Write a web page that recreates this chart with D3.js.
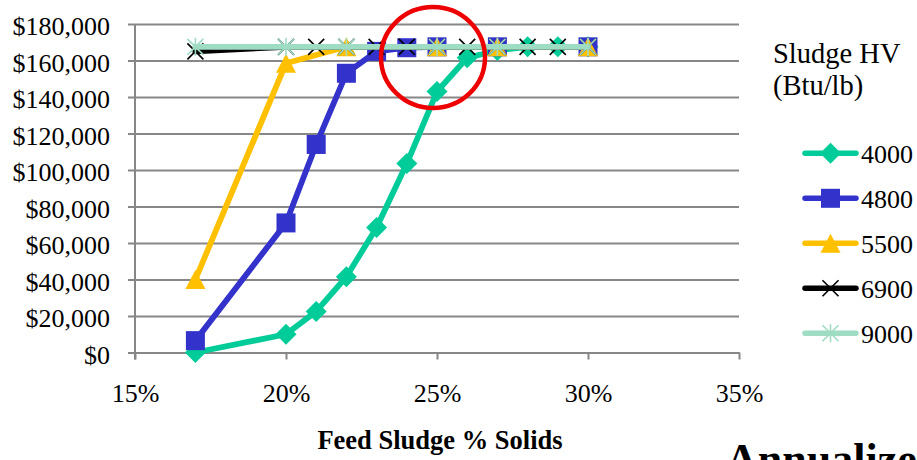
<!DOCTYPE html>
<html>
<head>
<meta charset="utf-8">
<script src="https://cdn.jsdelivr.net/npm/d3@7"></script>
<style>
  html, body { margin: 0; padding: 0; background: #fff; }
  svg { display: block; }
  svg text { font-family: 'Liberation Serif', 'Times New Roman', Tinos, 'DejaVu Serif', 'Noto Serif', serif; fill: #000; }
</style>
</head>
<body>
<svg id="chart" width="917" height="460"></svg>
<script>
// Feed sludge solids (%) and annualized cost ($) for each sludge heating value
const pct4000  = [17, 20, 21, 22, 23, 24, 25, 26, 27, 28, 29, 30];
const cost4000 = [0, 10000, 22500, 41500, 68500, 103500, 143000, 161500, 165500, 167500, 167500, 167500];

const pct4800  = [17, 20, 21, 22, 23, 24, 25, 27, 30];
const cost4800 = [6500, 71000, 114000, 153000, 165000, 167000, 167500, 167500, 167500];

const pct5500  = [17, 20, 22, 25, 27, 30];
const cost5500 = [40000, 158500, 167500, 167500, 167500, 167500];

const pct6900  = [17, 20, 21, 22, 23, 24, 25, 26, 27, 28, 29, 30];
const cost6900 = [165000, 167500, 167500, 167500, 167500, 167500, 167500, 167500, 167500, 167500, 167500, 167500];

const pct9000  = [17, 20, 22, 25, 27, 30];
const cost9000 = [167500, 167500, 167500, 167500, 167500, 167500];

const seriesNames  = ["4000", "4800", "5500", "6900", "9000"];
const seriesColors = ["#00CC99", "#3333CC", "#FFC000", "#000000", "#9EDCC3"];
const seriesShapes = ["diamond", "square", "triangle", "x", "star"];

const xTicks = [15, 20, 25, 30, 35];
const yTicks = [0, 20000, 40000, 60000, 80000, 100000, 120000, 140000, 160000, 180000];

const legendTitle = ["Sludge HV", "(Btu/lb)"];
const xTitle = "Feed Sludge % Solids";
const pageHeading = "Annualized";

const FONT = "'Liberation Serif', 'Times New Roman', Tinos, 'DejaVu Serif', 'Noto Serif', serif";

const series = [
  { pct: pct4000, cost: cost4000 },
  { pct: pct4800, cost: cost4800 },
  { pct: pct5500, cost: cost5500 },
  { pct: pct6900, cost: cost6900 },
  { pct: pct9000, cost: cost9000 }
].map((s, i) => ({
  name: seriesNames[i],
  color: seriesColors[i],
  shape: seriesShapes[i],
  points: s.pct.map((p, j) => ({ x: p / 100, y: s.cost[j] }))
}));

const svg = d3.select("#chart").attr("font-family", FONT);
const plot = { left: 135, right: 739, top: 24, bottom: 352.5 };

const x = d3.scaleLinear().domain([0.15, 0.35]).range([plot.left, plot.right]);
const y = d3.scaleLinear().domain([0, 180000]).range([plot.bottom, plot.top]);

const grey = "#878787";

// Horizontal gridlines with short outer ticks, and the value labels
const yAxis = svg.append("g")
  .attr("transform", `translate(${plot.left},0)`)
  .call(d3.axisLeft(y).tickValues(yTicks).tickFormat(d3.format("$,")).tickSizeOuter(0));
yAxis.attr("font-family", FONT).attr("font-size", 26);
yAxis.select(".domain").remove();
yAxis.selectAll(".tick line")
  .attr("x1", -7).attr("x2", plot.right - plot.left)
  .attr("stroke", grey).attr("stroke-width", 2);
yAxis.selectAll(".tick text")
  .attr("x", -25).attr("dy", "0.42em");

// Vertical axis line
svg.append("line")
  .attr("x1", plot.left).attr("x2", plot.left)
  .attr("y1", plot.top).attr("y2", plot.bottom + 7)
  .attr("stroke", grey).attr("stroke-width", 2);

// Horizontal axis with downward ticks and percent labels
const xAxis = svg.append("g")
  .attr("transform", `translate(0,${plot.bottom})`)
  .call(d3.axisBottom(x).tickValues(xTicks.map(d => d / 100))
    .tickFormat(d3.format(".0%")).tickSizeInner(7).tickSizeOuter(0));
xAxis.attr("font-family", FONT).attr("font-size", 26);
xAxis.select(".domain").attr("stroke", grey).attr("stroke-width", 2);
xAxis.selectAll(".tick line").attr("stroke", grey).attr("stroke-width", 2);
xAxis.selectAll(".tick text").attr("y", 49.5).attr("dy", 0);

// Marker drawing
function drawMarker(g, shape, color) {
  if (shape === "diamond") {
    g.append("path").attr("d", "M0,-10.5L10.5,0L0,10.5L-10.5,0Z").attr("fill", color);
  } else if (shape === "square") {
    g.append("rect").attr("x", -9.5).attr("y", -9.5).attr("width", 19).attr("height", 19)
      .attr("fill", color);
  } else if (shape === "triangle") {
    g.append("path").attr("d", "M0,-9.5L10,9.5L-10,9.5Z").attr("fill", color);
  } else if (shape === "x") {
    g.append("path").attr("d", "M-8,-8L8,8M-8,8L8,-8")
      .attr("stroke", color).attr("stroke-width", 1.6).attr("fill", "none");
  } else if (shape === "star") {
    g.append("path").attr("d", "M-8,-8L8,8M-8,8L8,-8M0,-9L0,9")
      .attr("stroke", color).attr("stroke-width", 1.6).attr("fill", "none");
  }
}

const line = d3.line().x(d => x(d.x)).y(d => y(d.y));

// Each series: its line, then its markers
series.forEach(s => {
  const g = svg.append("g");
  g.append("path")
    .datum(s.points)
    .attr("d", line)
    .attr("fill", "none")
    .attr("stroke", s.color)
    .attr("stroke-width", 5.8)
    .attr("stroke-linejoin", "round")
    .attr("stroke-linecap", "round");
  g.selectAll("g.m")
    .data(s.points)
    .join("g")
    .attr("class", "m")
    .attr("transform", d => `translate(${x(d.x)},${y(d.y)})`)
    .each(function () { drawMarker(d3.select(this), s.shape, s.color); });
});

// Highlight ring around the knee of the curves
svg.append("ellipse")
  .attr("cx", 433).attr("cy", 57.5)
  .attr("rx", 52).attr("ry", 50.5)
  .attr("fill", "none")
  .attr("stroke", "#EE0000")
  .attr("stroke-width", 4.5);

// Legend
const legend = svg.append("g").attr("font-size", 26);
legend.append("text").attr("x", 773).attr("y", 63).attr("font-size", 28.5).text(legendTitle[0]);
legend.append("text").attr("x", 773).attr("y", 95).attr("font-size", 28.5).text(legendTitle[1]);

series.forEach((s, i) => {
  const ly = 153.3 + i * 45;
  const g = legend.append("g");
  g.append("line")
    .attr("x1", 805).attr("x2", 856).attr("y1", ly).attr("y2", ly)
    .attr("stroke", s.color).attr("stroke-width", 5.5).attr("stroke-linecap", "round");
  const m = g.append("g").attr("transform", `translate(830.5,${ly})`);
  drawMarker(m, s.shape, s.color);
  g.append("text").attr("x", 861).attr("y", ly + 10).text(s.name);
});

// Axis title
svg.append("text")
  .attr("x", 440).attr("y", 449)
  .attr("text-anchor", "middle")
  .attr("font-size", 26.5).attr("font-weight", "bold")
  .text(xTitle);

// Page heading running off the bottom edge
svg.append("text")
  .attr("x", 726).attr("y", 474)
  .attr("font-size", 44).attr("font-weight", "bold")
  .text(pageHeading);
</script>
</body>
</html>
